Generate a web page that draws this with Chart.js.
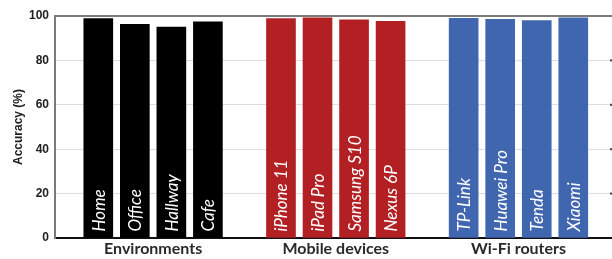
<!DOCTYPE html>
<html>
<head>
<meta charset="utf-8">
<script src="https://cdn.jsdelivr.net/npm/chart.js@4/dist/chart.umd.min.js"></script>
<style>
  html, body { margin: 0; padding: 0; background: #fff; }
  #wrap { width: 612px; height: 259px; }
</style>
</head>
<body>
<div id="wrap"><canvas id="accChart"></canvas></div>
<script>
// grupos e valores
const groups = ['Environments', 'Mobile devices', 'Wi-Fi routers'];
const environments = ['Home', 'Office', 'Hallway', 'Cafe'];
const envValues = [98.8, 96.2, 95.0, 97.4];
const mobiles = ['iPhone 11', 'iPad Pro', 'Samsung S10', 'Nexus 6P'];
const mobileValues = [98.8, 99.2, 98.3, 97.6];
const routers = ['TP-Link', 'Huawei Pro', 'Tenda', 'Xiaomi'];
const routerValues = [98.9, 98.5, 97.9, 99.2];
const yTicks = [0, 20, 40, 60, 80, 100];

const groupColors = ['#000000', '#b22024', '#4066b0'];

// monta os pontos: cada grupo ocupa 4 posições + 1 vazia
const allNames = [environments, mobiles, routers];
const allValues = [envValues, mobileValues, routerValues];
const points = [];
const colors = [];
const names = [];
allValues.forEach((vals, g) => {
    vals.forEach((v, i) => {
        points.push({ x: g * 5 + i, y: v });
        colors.push(groupColors[g]);
        names.push(allNames[g][i]);
    });
});
const groupCenters = groups.map((_, g) => g * 5 + 1.5);

// rótulos dentro das barras
const barLabels = {
    id: 'barLabels',
    afterDatasetsDraw(chart) {
        const c = chart.ctx;
        const meta = chart.getDatasetMeta(0);
        c.save();
        c.fillStyle = '#ffffff';
        c.font = 'italic 17px Lato';
        c.textAlign = 'left';
        c.textBaseline = 'middle';
        meta.data.forEach((bar, i) => {
            c.save();
            c.translate(bar.x + 1, bar.base - 6);
            c.rotate(-Math.PI / 2);
            c.fillText(names[i], 0, 0);
            c.restore();
        });
        c.restore();
    }
};

// linha superior do quadro + marquinhas do eixo direito
const topFrame = {
    id: 'topFrame',
    afterDraw(chart) {
        const a = chart.chartArea;
        const c = chart.ctx;
        c.save();
        c.strokeStyle = '#7a7a7a';
        c.lineWidth = 2;
        c.beginPath();
        c.moveTo(a.left, a.top);
        c.lineTo(a.right, a.top);
        c.stroke();
        c.fillStyle = '#444';
        const ys = chart.scales.y;
        yTicks.slice(1, -1).forEach(v => {
            const py = ys.getPixelForValue(v);
            c.fillRect(a.right - 2, py - 1, 2, 2);
        });
        c.restore();
    }
};

new Chart(document.getElementById('accChart'), {
    type: 'bar',
    data: {
        datasets: [{
            data: points,
            backgroundColor: colors,
            borderWidth: 0,
            barThickness: 29
        }]
    },
    options: {
        responsive: true,
        maintainAspectRatio: false,
        animation: false,
        layout: { padding: { top: 16, right: 0, left: 0, bottom: 0 } },
        plugins: {
            legend: { display: false },
            tooltip: { enabled: false }
        },
        scales: {
            x: {
                type: 'linear',
                offset: false,
                min: -1.185,
                max: 14.06,
                afterBuildTicks(scale) {
                    scale.ticks = groupCenters.map(v => ({ value: v }));
                },
                afterFit(scale) { scale.height = 21; },
                ticks: {
                    autoSkip: false,
                    maxRotation: 0,
                    padding: 1,
                    color: '#2a2a2a',
                    font: { family: 'Lato', size: 16, weight: 'bold' },
                    callback: function(value) {
                        const idx = groupCenters.indexOf(value);
                        return idx >= 0 ? groups[idx] : '';
                    }
                },
                grid: { display: false, drawTicks: false },
                border: { color: '#111', width: 2 }
            },
            y: {
                min: 0,
                max: 100,
                afterBuildTicks(scale) {
                    scale.ticks = yTicks.map(v => ({ value: v }));
                },
                afterFit(scale) { scale.width = 55; },
                ticks: {
                    padding: 6,
                    color: '#222',
                    font: { family: 'Liberation Sans', size: 12, weight: 'bold' }
                },
                title: {
                    display: true,
                    text: 'Accuracy (%)',
                    color: '#222',
                    padding: { top: 11, bottom: 0 },
                    font: { family: 'Liberation Sans', size: 12, weight: 'bold' }
                },
                grid: {
                    color: '#dedede',
                    lineWidth: 1,
                    drawTicks: false
                },
                border: { color: '#7a7a7a', width: 2 }
            }
        }
    },
    plugins: [barLabels, topFrame]
});
</script>
</body>
</html>
